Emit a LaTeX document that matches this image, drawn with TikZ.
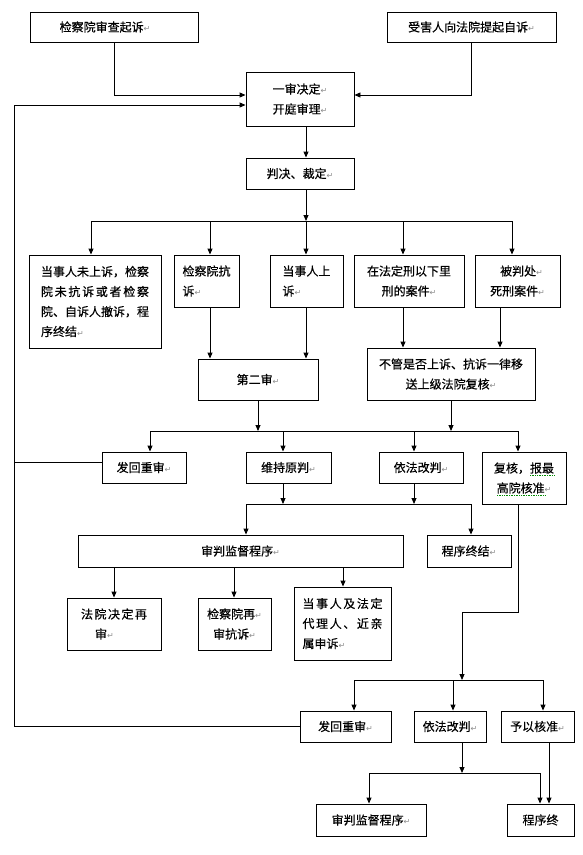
\documentclass[tikz,border=0pt]{standalone}
\usepackage{fontspec}
\newfontfamily\cjk[FakeBold=0.4]{Noto Sans CJK SC}
\newfontfamily\djv{DejaVu Sans}
\usetikzlibrary{arrows.meta}
\newcommand\rt{{\djv\fontsize{8}{8}\selectfont\color{black!45}↵}}
\begin{document}
\begin{tikzpicture}[x=1pt,y=-1pt,
  box/.style={draw, line width=0.9pt, inner sep=0pt, font=\cjk\fontsize{12}{20}\selectfont, align=center},
  arr/.style={-{Triangle[length=6pt,width=5pt]}, line width=0.9pt},
  ln/.style={line width=0.9pt},
  squig/.style={green!55!black, densely dotted, line width=0.7pt}]
\fill[white] (0,0) rectangle (583,855);
\useasboundingbox (0,0) rectangle (583,855);

% boxes
\node[box,minimum width=168,minimum height=30] (A) at (114,27) {检察院审查起诉\rt\hspace*{18pt}};
\node[box,minimum width=169,minimum height=30] (B) at (471.5,27) {受害人向法院提起自诉\rt};
\node[box,minimum width=108,minimum height=54] (C) at (300,99) {一审决定\rt\\开庭审理\rt};
\node[box,minimum width=108,minimum height=31] (D) at (300,173.5) {判决、裁定\rt};

\node[box,align=left,minimum width=132,minimum height=93] (E1) at (95,301.5)
  {当事人未上诉，检察\\\makebox[108pt][s]{院\hfil 未\hfil 抗\hfil 诉\hfil 或\hfil 者\hfil 检\hfil 察}\\院、自诉人撤诉，程\\序终结\rt};
\node[box,align=left,minimum width=65,minimum height=52] (E2) at (206.5,281) {检察院抗\\诉\rt};
\node[box,align=left,minimum width=73,minimum height=52] (E3) at (306.5,281) {当事人上\\诉\rt};
\node[box,minimum width=110,minimum height=52] (E4) at (409,281) {在法定刑以下里\\刑的案件\rt};
\node[box,minimum width=85,minimum height=52] (E5) at (517.5,281) {\hspace*{8pt}被判处\rt\\死刑案件\rt};

\node[box,minimum width=120,minimum height=41] (F) at (258,379.5) {第二审\rt};
\node[box,minimum width=168,minimum height=52] (G) at (451,374) {不管是否上诉、抗诉一律移\\送上级法院复核\rt};

\node[box,minimum width=84,minimum height=31] (H1) at (144,467.5) {发回重审\rt};
\node[box,minimum width=85,minimum height=31] (H2) at (288.5,467.5) {维持原判\rt};
\node[box,minimum width=84,minimum height=31] (H3) at (421,467.5) {依法改判\rt};
\node[box,minimum width=84,minimum height=52] (H4) at (524,478) {复核，报最\\高院核准\rt};

\node[box,minimum width=325,minimum height=32] (I1) at (240.5,551) {审判监督程序\rt};
\node[box,minimum width=84,minimum height=32] (I2) at (469,551) {程序终结\rt};

\node[box,align=left,minimum width=94,minimum height=52] (J1) at (114,624)
  {\makebox[66pt][s]{法\hfil 院\hfil 决\hfil 定\hfil 再}\\\hspace*{14pt}审\rt};
\node[box,minimum width=73,minimum height=52] (J2) at (234.5,624) {检察院再\rt\\审抗诉\rt};
\node[box,align=left,minimum width=97,minimum height=73] (J3) at (342.5,623.5)
  {\makebox[80pt][s]{当\hfil 事\hfil 人\hfil 及\hfil 法\hfil 定}\\\makebox[80pt][s]{代\hfil 理\hfil 人\hfil 、\hfil 近\hfil 亲}\\属申诉\rt};

\node[box,minimum width=91,minimum height=31] (K1) at (345.5,726.5) {发回重审\rt};
\node[box,minimum width=72,minimum height=31] (K2) at (450,726.5) {依法改判\rt};
\node[box,minimum width=73,minimum height=31] (K3) at (537.5,726.5) {予以核准\rt};

\node[box,minimum width=110,minimum height=32] (L1) at (371,820) {审判监督程序\rt};
\node[box,minimum width=67,minimum height=32] (L2) at (540.5,820) {程序终};

% grammar-check underline
\draw[squig] ([xshift=6pt,yshift=3pt]H4.center) -- ++(24,0);
\draw[squig] ([xshift=-27pt,yshift=-17pt]H4.center) -- ++(48,0);

% junction coordinates
\coordinate (lp) at (14,0);
\coordinate (b1a) at (91,221);
\coordinate (b1b) at (210,221);
\coordinate (b1c) at (306,221);
\coordinate (b1d) at (403,221);
\coordinate (b1e) at (512,221);
\coordinate (g5) at (500,0);
\coordinate (b2a) at (150,431);
\coordinate (b2f) at (258,431);
\coordinate (b2b) at (283,431);
\coordinate (b2c) at (414,431);
\coordinate (b2g) at (451,431);
\coordinate (b2d) at (518,431);
\coordinate (b3a) at (246,504);
\coordinate (b3b) at (283,504);
\coordinate (b3c) at (414,504);
\coordinate (b3d) at (471,504);
\coordinate (i1a) at (114,0);
\coordinate (i1b) at (234,0);
\coordinate (i1c) at (343,0);
\coordinate (h4a) at (518,612);
\coordinate (h4b) at (462,612);
\coordinate (b4) at (462,680);
\coordinate (b4a) at (354,680);
\coordinate (b4b) at (453,680);
\coordinate (b4c) at (543,680);
\coordinate (b5) at (462,773);
\coordinate (b5a) at (369,773);
\coordinate (b5b) at (540,773);
\coordinate (k3) at (549,0);

% top
\draw[arr] (A.south) |- ([yshift=4pt]C.west);
\draw[arr] (B.south) |- ([yshift=4pt]C.east);
\draw[arr] (K1.west) -- (K1.west -| lp) |- ([yshift=-6pt]C.west);
\draw[ln] ([yshift=5pt]H1.west) -- ([yshift=5pt]H1.west -| lp);
\draw[arr] (b1c |- C.south) -- (b1c |- D.north);

% bus 1
\draw[arr] (b1c |- D.south) -- (b1c);
\draw[ln] (b1a) -- (b1e);
\draw[arr] (b1a) -- (b1a |- E1.north);
\draw[arr] (b1b) -- (b1b |- E2.north);
\draw[arr] (b1c) -- (b1c |- E3.north);
\draw[arr] (b1d) -- (b1d |- E4.north);
\draw[arr] (b1e) -- (b1e |- E5.north);

\draw[arr] (b1b |- E2.south) -- (b1b |- F.north);
\draw[arr] (b1c |- E3.south) -- (b1c |- F.north);
\draw[arr] (b1d |- E4.south) -- (b1d |- G.north);
\draw[arr] (g5 |- E5.south) -- (g5 |- G.north);

% bus 2
\draw[arr] (b2f |- F.south) -- (b2f);
\draw[arr] (b2g |- G.south) -- (b2g);
\draw[ln] (b2a) -- (b2d);
\draw[arr] (b2a) -- (b2a |- H1.north);
\draw[arr] (b2b) -- (b2b |- H2.north);
\draw[arr] (b2c) -- (b2c |- H3.north);
\draw[arr] (b2d) -- (b2d |- H4.north);

% bus 3
\draw[arr] (b3b |- H2.south) -- (b3b);
\draw[arr] (b3c |- H3.south) -- (b3c);
\draw[ln] (b3a) -- (b3d);
\draw[arr] (b3a) -- (b3a |- I1.north);
\draw[arr] (b3d) -- (b3d |- I2.north);

\draw[arr] (i1a |- I1.south) -- (i1a |- J1.north);
\draw[arr] (i1b |- I1.south) -- (i1b |- J2.north);
\draw[arr] (i1c |- I1.south) -- (i1c |- J3.north);

% death-penalty review branch
\draw[arr] (h4a |- H4.south) -- (h4a) -- (h4b) -- (b4);
\draw[ln] (b4a) -- (b4c);
\draw[arr] (b4a) -- (b4a |- K1.north);
\draw[arr] (b4b) -- (b4b |- K2.north);
\draw[arr] (b4c) -- (b4c |- K3.north);

\draw[arr] (b5 |- K2.south) -- (b5);
\draw[ln] (b5a) -- (b5b);
\draw[arr] (b5a) -- (b5a |- L1.north);
\draw[arr] (b5b) -- (b5b |- L2.north);
\draw[arr] (k3 |- K3.south) -- (k3 |- L2.north);
\end{tikzpicture}
\end{document}
